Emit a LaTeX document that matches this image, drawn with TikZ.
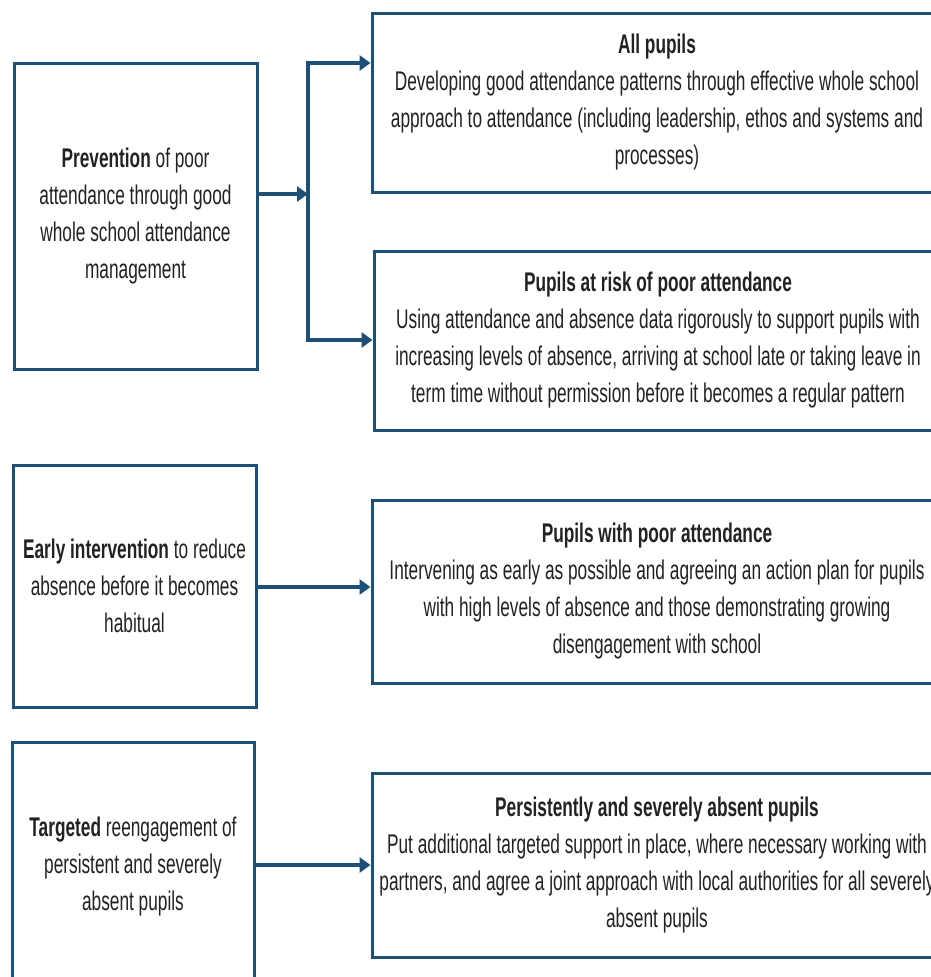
\documentclass[tikz,border=0pt]{standalone}
\usepackage{fontspec}
\setmainfont[FakeStretch=0.64]{Liberation Sans}
\usetikzlibrary{arrows.meta}
\definecolor{frame}{HTML}{1D5077}
\definecolor{txt}{HTML}{222222}
\tikzset{
  box/.style={draw=frame, line width=3pt, fill=white, align=center, text=txt,
    font=\fontsize{27}{37}\selectfont, inner sep=0pt},
  arr/.style={draw=frame, line width=4.5pt, -{Triangle[length=11pt,width=15pt]}},
  bus/.style={draw=frame, line width=3.5pt, line cap=rect}
}
\begin{document}
\begin{tikzpicture}[x=1pt,y=-1pt]
\useasboundingbox (0,0) rectangle (931,977);
\fill[white] (0,0) rectangle (931,977);
\clip (0,0) rectangle (931,977);
% left boxes
\node[box, minimum width=243pt, minimum height=306pt] (L1) at (135.5,216)
  {\textbf{Prevention} of poor\\attendance through good\\whole school attendance\\management};
\node[box, minimum width=243pt, minimum height=242pt] (L2) at (134.5,586)
  {\textbf{Early intervention} to reduce\\absence before it becomes\\habitual};
\node[box, minimum width=242pt, minimum height=250pt] (L3) at (133,867)
  {\textbf{Targeted} reengagement of\\persistent and severely\\absent pupils};
% right boxes
\node[box, minimum width=570pt, minimum height=179pt] (R1) at (657,102.5)
  {\textbf{All pupils}\\Developing good attendance patterns through effective whole school\\approach to attendance (including leadership, ethos and systems and\\processes)};
\node[box, minimum width=568pt, minimum height=179pt] (R2) at (658,340.5)
  {\textbf{Pupils at risk of poor attendance}\\Using attendance and absence data rigorously to support pupils with\\increasing levels of absence, arriving at school late or taking leave in\\term time without permission before it becomes a regular pattern};
\node[box, minimum width=570pt, minimum height=183pt] (R3) at (657,591.5)
  {\textbf{Pupils with poor attendance}\\Intervening as early as possible and agreeing an action plan for pupils\\with high levels of absence and those demonstrating growing\\disengagement with school};
\node[box, minimum width=570pt, minimum height=184pt] (R4) at (657,865)
  {\textbf{Persistently and severely absent pupils}\\Put additional targeted support in place, where necessary working with\\partners, and agree a joint approach with local authorities for all severely\\absent pupils};
% connectors
\coordinate (J) at (308,194);
\coordinate (T) at (308,63);
\coordinate (B) at (308,340);
\draw[arr] (L1.east |- J) -- (J);
\draw[bus] (T) -- (B);
\draw[arr] (T) -- (T -| R1.west);
\draw[arr] (B) -- (B -| R2.west);
\draw[arr] (L2.east |- 0,587) -- (R3.west |- 0,587);
\draw[arr] (L3.east |- 0,865) -- (R4.west |- 0,865);
\end{tikzpicture}
\end{document}
